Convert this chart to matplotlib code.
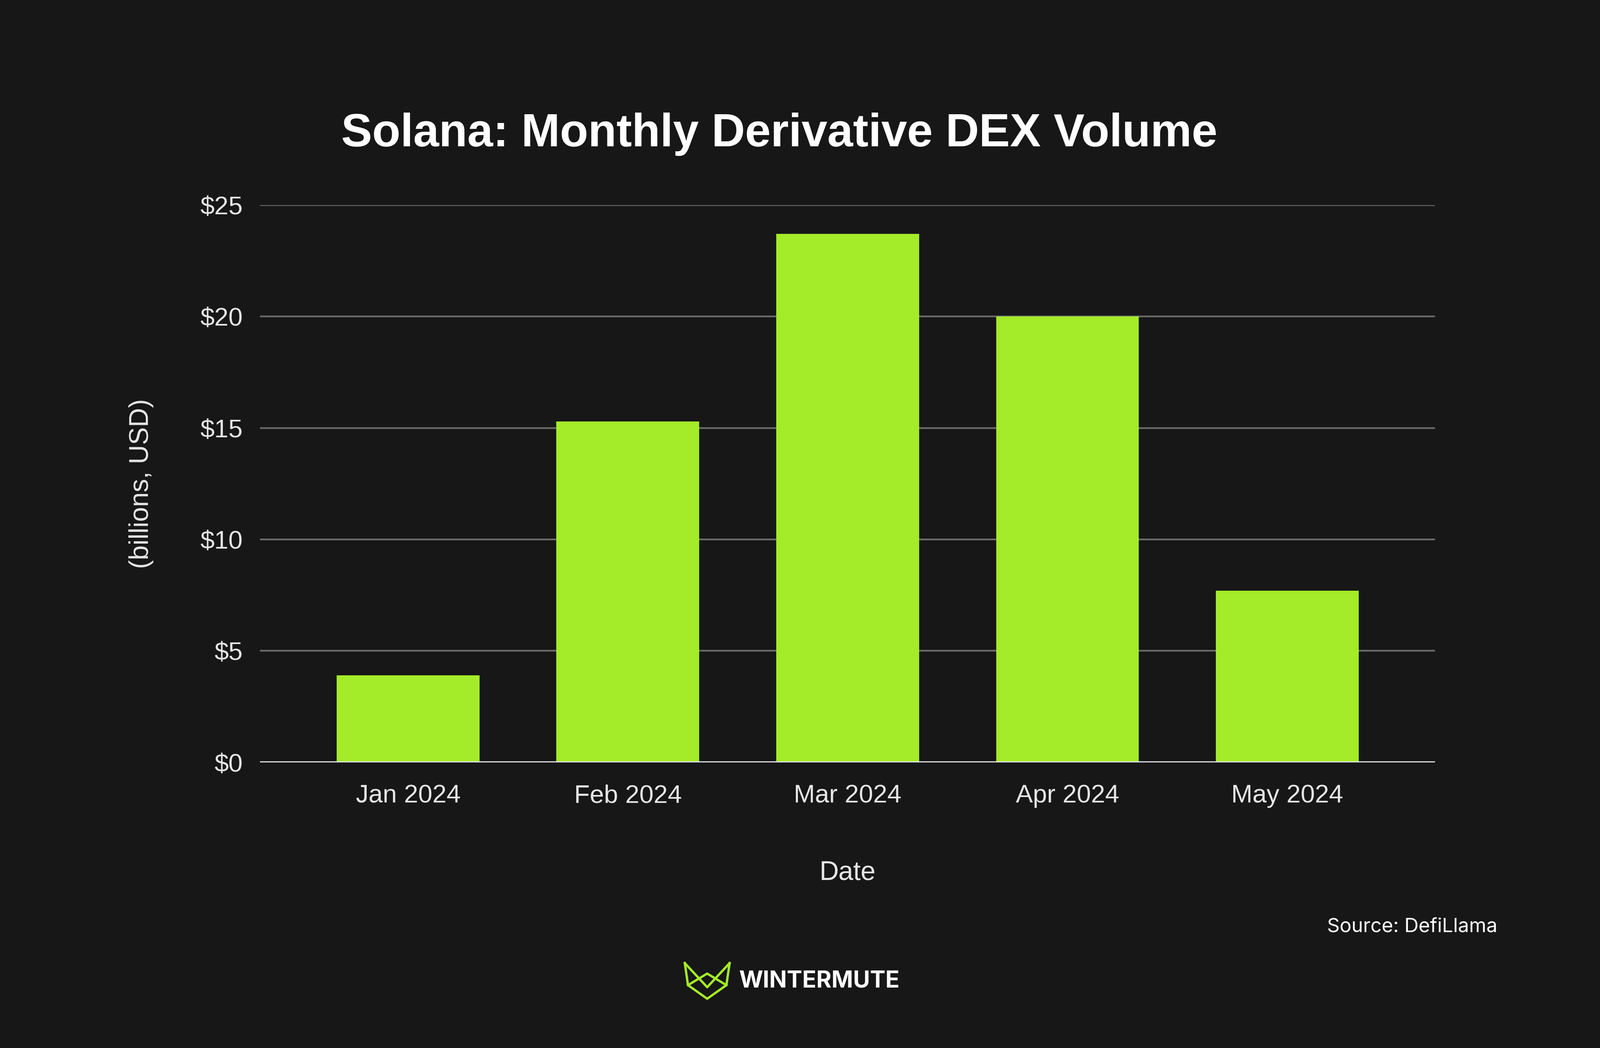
import matplotlib.pyplot as plt

months = ['Jan 2024', 'Feb 2024', 'Mar 2024', 'Apr 2024', 'May 2024']
volume = [3.9, 15.3, 23.7, 20.0, 7.7]
yticks = [0, 5, 10, 15, 20, 25]
ytick_labels = ['$0', '$5', '$10', '$15', '$20', '$25']

bg = '#171717'
green = '#a4eb29'
plt.rcParams['font.family'] = 'Liberation Sans'

fig = plt.figure(figsize=(38.4, 25.14), dpi=100, facecolor=bg)
ax = fig.add_axes([0.1626, 0.2726, 0.7344, 0.5317], facecolor=bg)

x = range(len(months))
ax.bar(x, volume, width=0.65, color=green, zorder=3)
ax.set_xlim(-0.673, len(months) - 1 + 0.673)
ax.set_ylim(0, 25)
ax.set_yticks(yticks)
ax.set_yticklabels(ytick_labels)
ax.set_xticks(list(x))
ax.set_xticklabels(months)
ax.grid(axis='y', color='#6a6a6a', linewidth=3, zorder=0)
ax.axhline(0, color='#e0e0e0', linewidth=4, zorder=4)
for s in ax.spines.values():
    s.set_visible(False)
ax.tick_params(length=0, labelsize=44, colors='#e6e6e6')
ax.tick_params(axis='x', pad=38)
ax.tick_params(axis='y', pad=30)
ax.set_xlabel('Date', fontsize=46, color='#e6e6e6', labelpad=90)
ax.set_ylabel('(billions, USD)', fontsize=46, color='#e6e6e6', labelpad=80)

fig.text(0.487, 0.872, 'Solana: Monthly Derivative DEX Volume', ha='center', va='center',
         fontsize=80, fontweight='bold', color='white')
fig.text(0.936, 0.115, 'Source: DefiLlama', ha='right', va='center',
         fontsize=34, color='white', family='Inter')
fig.text(0.462, 0.064, 'WINTERMUTE', ha='left', va='center',
         fontsize=40, fontweight='bold', color='white', family='Inter')

# simple logo mark
green_lw = 4
lx = [0.428, 0.430, 0.442, 0.454, 0.456]
ly = [0.081, 0.060, 0.047, 0.060, 0.081]
fig.lines.append(plt.Line2D(lx, ly, transform=fig.transFigure, color=green, linewidth=green_lw))
fig.lines.append(plt.Line2D([0.428, 0.442, 0.456], [0.081, 0.058, 0.081],
                            transform=fig.transFigure, color=green, linewidth=green_lw))
fig.lines.append(plt.Line2D([0.430, 0.442, 0.454], [0.060, 0.071, 0.060],
                            transform=fig.transFigure, color=green, linewidth=green_lw))

fig.savefig('out.png', facecolor=bg)
